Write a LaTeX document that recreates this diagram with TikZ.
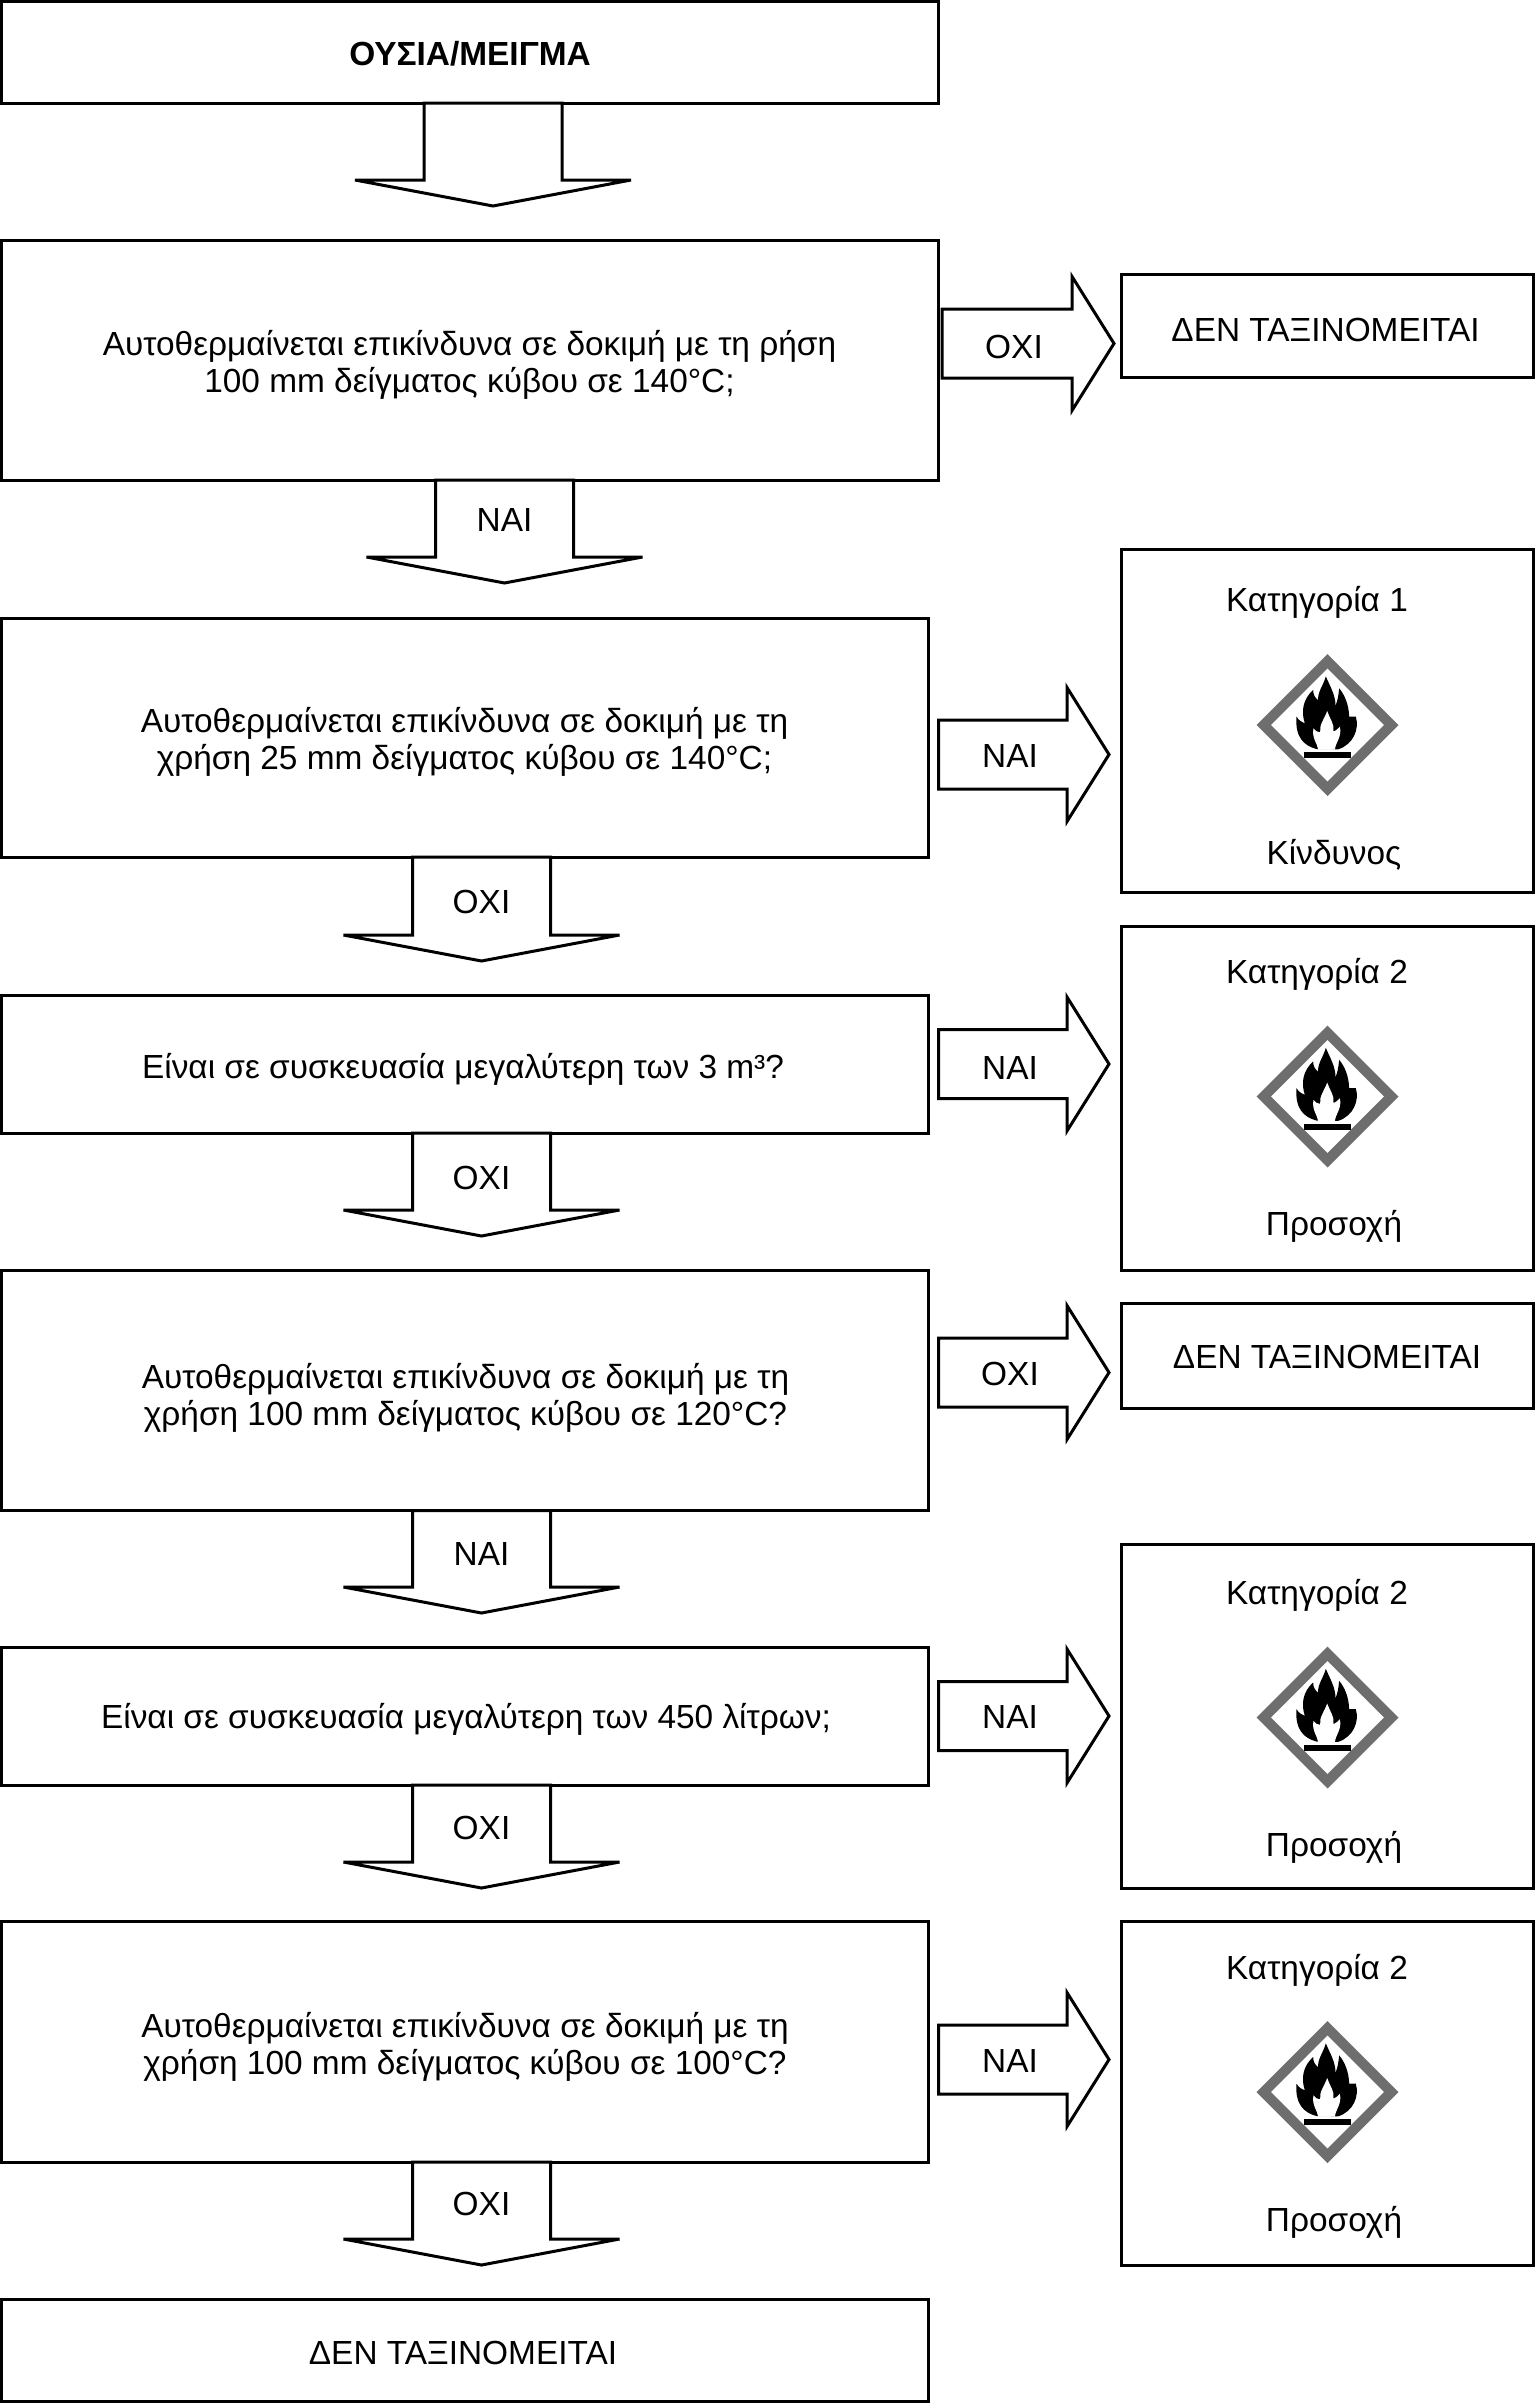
\documentclass[tikz,border=0pt]{standalone}
\usepackage{fontspec}
\setmainfont{Liberation Sans}
\usetikzlibrary{calc}

% All lengths are in pixel-sized points, y growing downwards.
\tikzset{
  x=1pt, y=-1pt,
  flowbox/.style={draw=black, line width=3pt, fill=white, rectangle, inner sep=0pt, outer sep=0pt},
  blockarrow/.style={draw=black, line width=3pt, fill=white, line join=miter, miter limit=4},
  caption/.style={font=\fontsize{33.4}{37.5}\selectfont, align=center, inner sep=0pt, text=black},
}

% \boxat{name}{x1}{y1}{x2}{y2}
\newcommand{\boxat}[5]{%
  \node[flowbox, minimum width={(#4-#2)*1pt}, minimum height={(#5-#3)*1pt}]
    (#1) at ({(#2+#4)/2},{(#3+#5)/2}) {};}

% \downblock{source box}{centre x}{half stem}{half wing}{shoulder y}{tip y}
\newcommand{\downblock}[6]{%
  \draw[blockarrow] ({#2-#3},0 |- #1.south) -- ({#2-#3},#5) -- ({#2-#4},#5)
    -- (#2,#6) -- ({#2+#4},#5) -- ({#2+#3},#5) -- ({#2+#3},0 |- #1.south) -- cycle;}

% \rightblock{source box}{start gap}{shoulder x}{tip x}{tip y}{half stem}{half wing}
\newcommand{\rightblock}[7]{%
  \coordinate (arrowstart) at ([xshift=#2pt]#1.east);
  \draw[blockarrow] (arrowstart |- 0,{#5-#6}) -- (#3,{#5-#6}) -- (#3,{#5-#7})
    -- (#4,#5) -- (#3,{#5+#7}) -- (#3,{#5+#6}) -- (arrowstart |- 0,{#5+#6}) -- cycle;}

% Flame pictogram in its grey-edged diamond
\tikzset{
  hazard/.pic={
    \begin{scope}[x=0.3333pt, y=-0.3333pt]
      \fill[black!57] (0,-213) -- (213,0) -- (0,213) -- (-213,0) -- cycle;
      \fill[white] (0,-169) -- (169,0) -- (0,169) -- (-169,0) -- cycle;
      \fill[black] (-33,72) .. controls (-72,62) and (-98,35) .. (-93,-25)
        .. controls (-86,-14) and (-78,-8) .. (-68,-5)
        .. controls (-80,-40) and (-74,-78) .. (-43,-105)
        .. controls (-43,-92) and (-38,-82) .. (-28,-74)
        .. controls (-30,-100) and (-14,-115) .. (-5,-146)
        .. controls (8,-115) and (24,-90) .. (24,-58)
        .. controls (31,-75) and (33,-90) .. (35,-110)
        .. controls (52,-90) and (64,-60) .. (65,-25)
        .. controls (72,-24) and (79,-26) .. (85,-25)
        .. controls (96,12) and (78,58) .. (32,73) -- cycle;
      \fill[white] (-28,74) .. controls (-30,55) and (-48,40) .. (-42,10)
        .. controls (-36,18) and (-30,22) .. (-22,22)
        .. controls (-26,0) and (-8,-20) .. (-1,-42)
        .. controls (6,-20) and (22,-2) .. (18,20)
        .. controls (25,18) and (30,12) .. (37,5)
        .. controls (44,35) and (25,50) .. (22,74) -- cycle;
      \fill[black] (-71,81) rectangle (69,99);
    \end{scope}
  }
}

\begin{document}
\begin{tikzpicture}
\useasboundingbox (0,0) rectangle (1535,2404);

% Left column of decision boxes
\boxat{title}{1}{1}{938}{103}
\boxat{qa}{1}{240.5}{938}{480}
\boxat{qb}{1}{618}{928}{857}
\boxat{qc}{1}{995}{928}{1133}
\boxat{qd}{1}{1270}{928}{1510.5}
\boxat{qe}{1}{1647}{928}{1785}
\boxat{qf}{1}{1921.5}{928}{2162}
\boxat{endbox}{1}{2299}{928}{2401}

% Right column of outcomes
\boxat{ra}{1121.5}{274.5}{1533.5}{377}
\boxat{rb}{1121.5}{549}{1533.5}{892}
\boxat{rc}{1121.5}{926}{1533.5}{1270}
\boxat{rd}{1121.5}{1303.5}{1533.5}{1408}
\boxat{re}{1121.5}{1544}{1533.5}{1888}
\boxat{rf}{1121.5}{1921.5}{1533.5}{2265}

% Downward block arrows
\downblock{title}{493}{69}{138}{180}{206}
\downblock{qa}{504.5}{69}{138}{557}{583}
\downblock{qb}{481.5}{69}{138}{935}{961}
\downblock{qc}{481.5}{69}{138}{1210}{1236}
\downblock{qd}{481.5}{69}{138}{1587}{1613}
\downblock{qe}{481.5}{69}{138}{1862}{1888}
\downblock{qf}{481.5}{69}{138}{2239}{2265}

% Rightward block arrows
\rightblock{qa}{4}{1072}{1114}{343.5}{34.5}{67}
\rightblock{qb}{10.5}{1067}{1109}{754.5}{34.5}{67}
\rightblock{qc}{10.5}{1067}{1109}{1064}{34.5}{67}
\rightblock{qd}{10.5}{1067}{1109}{1372.5}{34.5}{67}
\rightblock{qe}{10.5}{1067}{1109}{1716}{34.5}{67}
\rightblock{qf}{10.5}{1067}{1109}{2059.5}{34.5}{67}

% Box captions
\node[caption, font=\fontsize{33.4}{37.5}\selectfont\bfseries] (ttitle) at (470,54) {ΟΥΣΙΑ/ΜΕΙΓΜΑ};
\node[caption] (ta) at (469.5,365) {Αυτοθερμαίνεται επικίνδυνα σε δοκιμή με τη ρήση\\100 mm δείγματος κύβου σε 140°C;};
\node[caption] (tb) at (464.5,742) {Αυτοθερμαίνεται επικίνδυνα σε δοκιμή με τη\\χρήση 25 mm δείγματος κύβου σε 140°C;};
\node[caption] (tc) at (463,1069) {Είναι σε συσκευασία μεγαλύτερη των 3 m³?};
\node[caption] (td) at (465.5,1398) {Αυτοθερμαίνεται επικίνδυνα σε δοκιμή με τη\\χρήση 100 mm δείγματος κύβου σε 120°C?};
\node[caption] (te) at (466,1719) {Είναι σε συσκευασία μεγαλύτερη των 450 λίτρων;};
\node[caption] (tf) at (465,2047) {Αυτοθερμαίνεται επικίνδυνα σε δοκιμή με τη\\χρήση 100 mm δείγματος κύβου σε 100°C?};
\node[caption] (tend) at (463,2352.5) {ΔΕΝ ΤΑΞΙΝΟΜΕΙΤΑΙ};

% Outcome captions
\node[caption] (tra) at (1325.5,329.5) {ΔΕΝ ΤΑΞΙΝΟΜΕΙΤΑΙ};
\node[caption] (trd) at (1327,1357) {ΔΕΝ ΤΑΞΙΝΟΜΕΙΤΑΙ};
\node[caption] (trb1) at (1317,602) {Κατηγορία 1};
\node[caption] (trb2) at (1334,855) {Κίνδυνος};
\node[caption] (trc1) at (1317,974) {Κατηγορία 2};
\node[caption] (trc2) at (1334,1226) {Προσοχή};
\node[caption] (tre1) at (1317,1595) {Κατηγορία 2};
\node[caption] (tre2) at (1334,1847) {Προσοχή};
\node[caption] (trf1) at (1317,1970) {Κατηγορία 2};
\node[caption] (trf2) at (1334,2222) {Προσοχή};

% Arrow labels
\node[caption] (la) at (1014,346.5) {ΟΧΙ};
\node[caption] (ln1) at (504.5,520.5) {ΝΑΙ};
\node[caption] (lb) at (1010,756.5) {ΝΑΙ};
\node[caption] (l2) at (481.5,901.5) {ΟΧΙ};
\node[caption] (lc) at (1010,1067.5) {ΝΑΙ};
\node[caption] (l3) at (481.5,1177.5) {ΟΧΙ};
\node[caption] (ld) at (1010,1373.5) {ΟΧΙ};
\node[caption] (l4) at (481.5,1553.5) {ΝΑΙ};
\node[caption] (le) at (1010,1716.5) {ΝΑΙ};
\node[caption] (l5) at (481.5,1827.5) {ΟΧΙ};
\node[caption] (lf) at (1010,2060.5) {ΝΑΙ};
\node[caption] (l6) at (481.5,2203.5) {ΟΧΙ};

% Hazard pictograms
\pic at (1327.5,725) {hazard};
\pic at (1327.5,1096.5) {hazard};
\pic at (1327.5,1717.5) {hazard};
\pic at (1327.5,2092) {hazard};
\end{tikzpicture}
\end{document}
